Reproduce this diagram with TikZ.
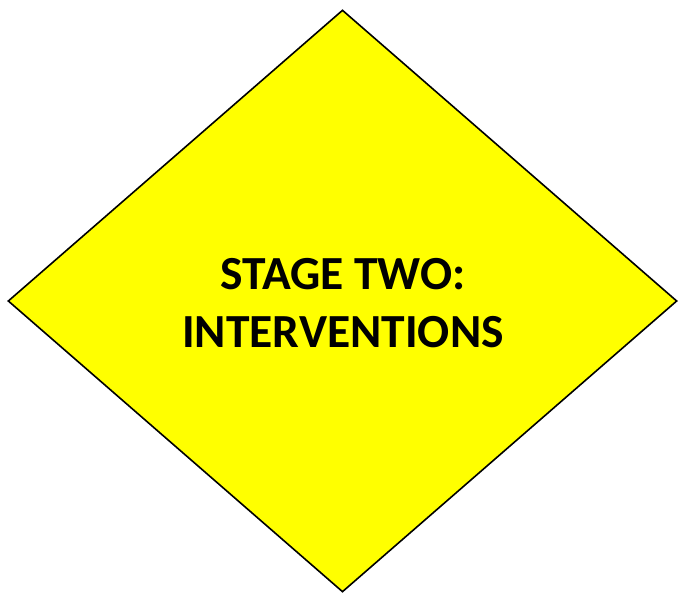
\documentclass[tikz,border=0pt]{standalone}
\usepackage{fontspec}
\setmainfont{Carlito}
\usetikzlibrary{shapes.geometric}
\definecolor{stageyellow}{RGB}{255,255,0}
\begin{document}
\begin{tikzpicture}[x=1pt,y=1pt,
  stagebox/.style={diamond,draw=black,line width=1.6pt,fill=stageyellow,inner sep=0pt,
    minimum width=669pt,minimum height=582pt,aspect=1.15},
  stagetext/.style={font=\bfseries\fontsize{47.5}{58}\selectfont,align=center,text=black}]
\useasboundingbox (0,0) rectangle (678,594);
\node[stagebox] (d) at (342.5,293) {};
\node[stagetext] (t) at (343,291) {STAGE TWO:\\INTERVENTIONS};
\end{tikzpicture}
\end{document}
